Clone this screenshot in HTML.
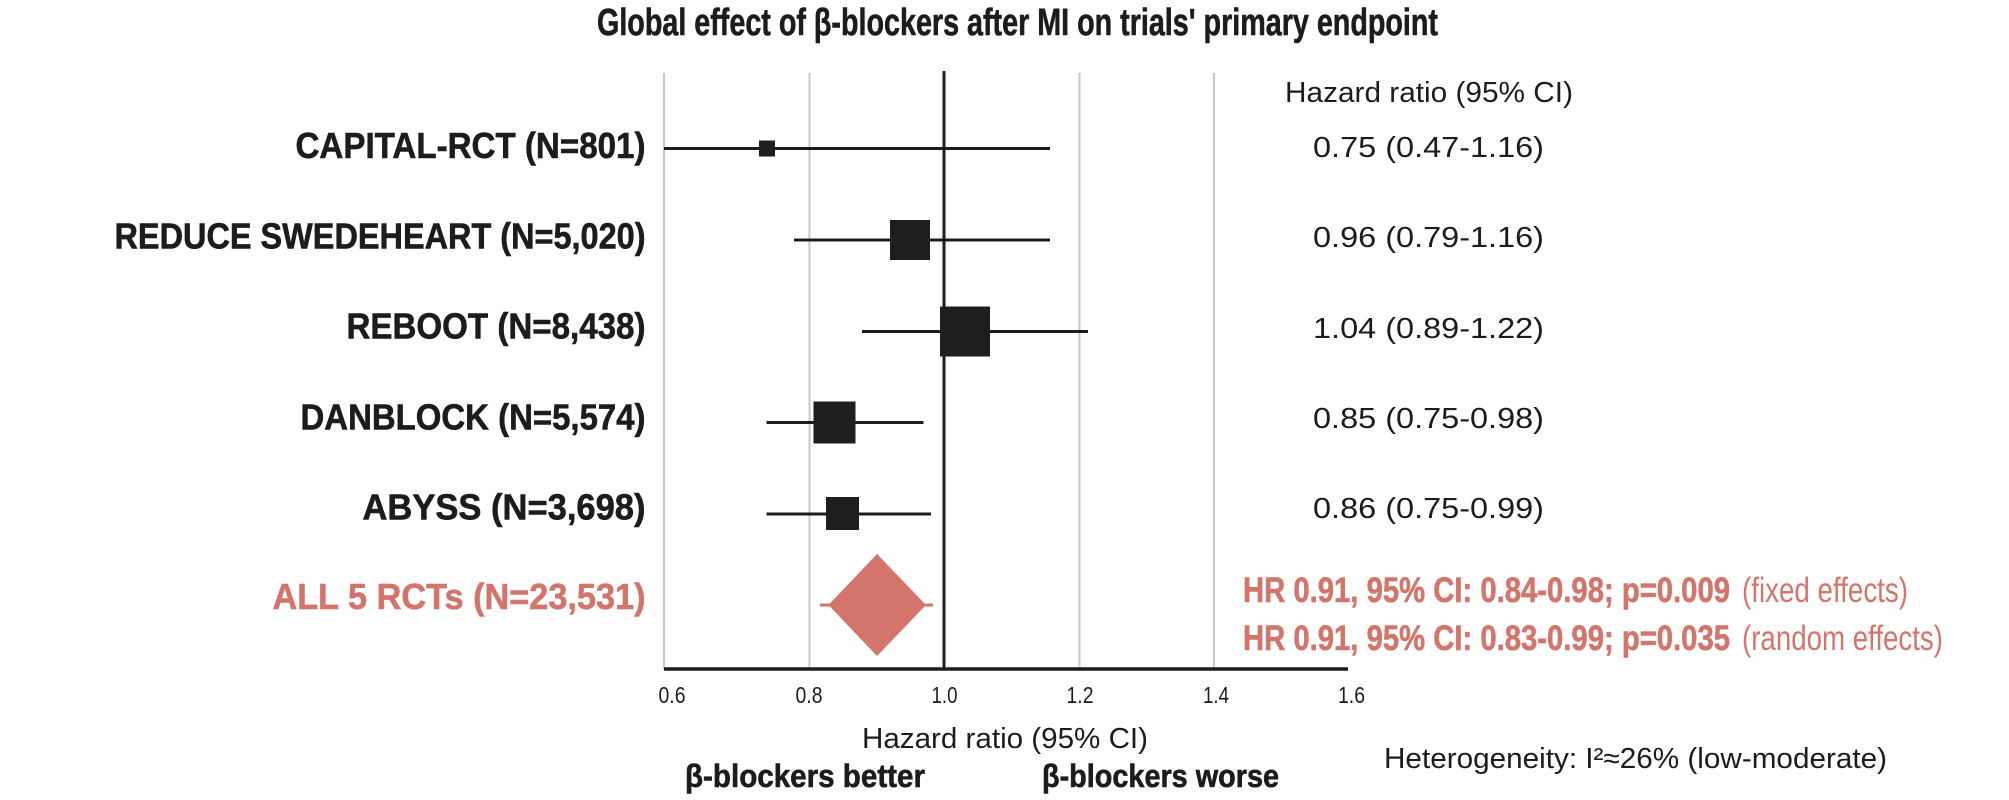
<!DOCTYPE html>
<html>
<head>
<meta charset="utf-8">
<style>
  html, body { margin: 0; padding: 0; background: #ffffff; }
  svg { display: block; }
  .b { font-family: "Liberation Sans Narrow", "Liberation Sans", sans-serif; font-weight: bold; fill: #1c1c1c; }
  .l { font-family: "Liberation Sans Narrow", "Liberation Sans", sans-serif; font-weight: normal; fill: #1c1c1c; }
  .s { fill: #d3756b; }
  .bs { stroke: #1c1c1c; stroke-width: 0.6px; }
  .ss { stroke: #d3756b; stroke-width: 0.6px; }
</style>
</head>
<body>
<svg width="2009" height="800" viewBox="0 0 2009 800" xmlns="http://www.w3.org/2000/svg">
  <rect x="0" y="0" width="2009" height="800" fill="#ffffff"/>

  <!-- Title -->
  <text class="b bs" x="597" y="35" font-size="38" textLength="841" lengthAdjust="spacingAndGlyphs">Global effect of β-blockers after MI on trials' primary endpoint</text>

  <!-- Gridlines -->
  <g stroke="#c8c8c8" stroke-width="2">
    <line x1="664" y1="73" x2="664" y2="669"/>
    <line x1="809.5" y1="73" x2="809.5" y2="669"/>
    <line x1="1079.5" y1="73" x2="1079.5" y2="669"/>
    <line x1="1214" y1="73" x2="1214" y2="669"/>
  </g>
  <!-- Null line -->
  <line x1="944" y1="71" x2="944" y2="669" stroke="#1c1c1c" stroke-width="3"/>
  <!-- X axis -->
  <line x1="664" y1="669" x2="1348" y2="669" stroke="#1c1c1c" stroke-width="3.5"/>

  <!-- Tick labels -->
  <g class="l" font-size="23" text-anchor="middle">
    <text x="672" y="703" textLength="27" lengthAdjust="spacingAndGlyphs">0.6</text>
    <text x="809" y="703" textLength="27" lengthAdjust="spacingAndGlyphs">0.8</text>
    <text x="944.5" y="703" textLength="26" lengthAdjust="spacingAndGlyphs">1.0</text>
    <text x="1080" y="703" textLength="27" lengthAdjust="spacingAndGlyphs">1.2</text>
    <text x="1216" y="703" textLength="26" lengthAdjust="spacingAndGlyphs">1.4</text>
    <text x="1351.5" y="703" textLength="27" lengthAdjust="spacingAndGlyphs">1.6</text>
  </g>

  <!-- Axis labels -->
  <text class="l" x="862" y="748" font-size="29" textLength="286" lengthAdjust="spacingAndGlyphs">Hazard ratio (95% CI)</text>
  <text class="b bs" x="685" y="787" font-size="32" textLength="240" lengthAdjust="spacingAndGlyphs">β-blockers better</text>
  <text class="b bs" x="1042" y="787" font-size="32" textLength="237" lengthAdjust="spacingAndGlyphs">β-blockers worse</text>

  <!-- Study labels -->
  <g class="b" font-size="36.5" text-anchor="end">
    <text class="bs" x="645.5" y="158" textLength="350" lengthAdjust="spacingAndGlyphs">CAPITAL-RCT (N=801)</text>
    <text class="bs" x="645.5" y="248.5" textLength="531" lengthAdjust="spacingAndGlyphs">REDUCE SWEDEHEART (N=5,020)</text>
    <text class="bs" x="645.5" y="338.5" textLength="299" lengthAdjust="spacingAndGlyphs">REBOOT (N=8,438)</text>
    <text class="bs" x="645.5" y="429.5" textLength="345" lengthAdjust="spacingAndGlyphs">DANBLOCK (N=5,574)</text>
    <text class="bs" x="645.5" y="519.5" textLength="283" lengthAdjust="spacingAndGlyphs">ABYSS (N=3,698)</text>
    <text class="s ss" x="645.5" y="609" textLength="373" lengthAdjust="spacingAndGlyphs">ALL 5 RCTs (N=23,531)</text>
  </g>

  <!-- CI lines -->
  <g stroke="#1c1c1c" stroke-width="3">
    <line x1="664" y1="148.5" x2="1050" y2="148.5"/>
    <line x1="794" y1="240" x2="1050" y2="240"/>
    <line x1="862" y1="331.5" x2="1088" y2="331.5"/>
    <line x1="766.5" y1="422.5" x2="923.5" y2="422.5"/>
    <line x1="766.5" y1="514" x2="931" y2="514"/>
  </g>
  <!-- Squares -->
  <g fill="#1e1e1e">
    <rect x="759" y="140.5" width="16" height="16"/>
    <rect x="890" y="220" width="40" height="40"/>
    <rect x="940" y="306.5" width="50" height="50"/>
    <rect x="813.5" y="401.5" width="42" height="42"/>
    <rect x="826" y="497" width="33" height="33"/>
  </g>
  <!-- Diamond -->
  <line x1="820" y1="605" x2="933" y2="605" stroke="#d3756b" stroke-width="3"/>
  <polygon points="877,554 926,605 877,656 828.5,605" fill="#d3756b"/>

  <!-- Right column -->
  <text class="l" x="1285" y="102" font-size="29" textLength="288" lengthAdjust="spacingAndGlyphs">Hazard ratio (95% CI)</text>
  <g class="l" font-size="29">
    <text x="1313" y="157" textLength="231" lengthAdjust="spacingAndGlyphs">0.75 (0.47-1.16)</text>
    <text x="1313" y="247" textLength="231" lengthAdjust="spacingAndGlyphs">0.96 (0.79-1.16)</text>
    <text x="1313" y="338" textLength="231" lengthAdjust="spacingAndGlyphs">1.04 (0.89-1.22)</text>
    <text x="1313" y="428" textLength="231" lengthAdjust="spacingAndGlyphs">0.85 (0.75-0.98)</text>
    <text x="1313" y="518" textLength="231" lengthAdjust="spacingAndGlyphs">0.86 (0.75-0.99)</text>
  </g>

  <!-- Summary text -->
  <text class="b s ss" x="1243" y="602" font-size="35" textLength="487" lengthAdjust="spacingAndGlyphs">HR 0.91, 95% CI: 0.84-0.98; p=0.009</text>
  <text class="l s" x="1742" y="602" font-size="35" textLength="166" lengthAdjust="spacingAndGlyphs">(fixed effects)</text>
  <text class="b s ss" x="1243" y="650" font-size="35" textLength="487" lengthAdjust="spacingAndGlyphs">HR 0.91, 95% CI: 0.83-0.99; p=0.035</text>
  <text class="l s" x="1742" y="650" font-size="35" textLength="201" lengthAdjust="spacingAndGlyphs">(random effects)</text>

  <!-- Heterogeneity -->
  <text class="l" x="1384" y="768" font-size="29" textLength="503" lengthAdjust="spacingAndGlyphs">Heterogeneity: I²≈26% (low-moderate)</text>
</svg>
</body>
</html>
